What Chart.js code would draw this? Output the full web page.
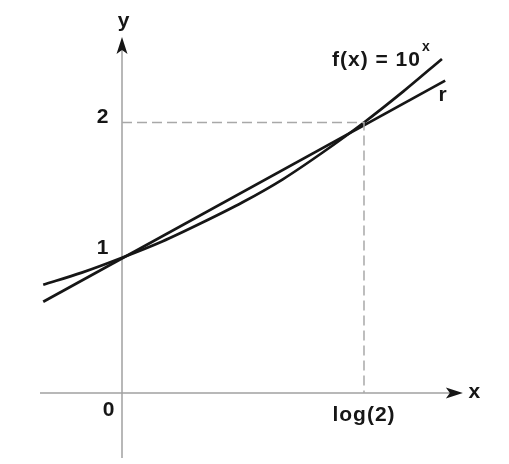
<!DOCTYPE html>
<html>
<head>
<meta charset="utf-8">
<script src="https://cdn.jsdelivr.net/npm/chart.js@4/dist/chart.umd.min.js"></script>
<style>
  html, body { margin: 0; padding: 0; background: #fff; }
  #wrap { width: 509px; height: 464px; }
</style>
</head>
<body>
<div id="wrap"><canvas id="c" width="509" height="464"></canvas></div>
<script>
// ---- data ----
const curveX = [-0.098, -0.05, 0, 0.05, 0.1, 0.15, 0.2, 0.25, 0.301, 0.35, 0.398];
const curveY = [0.80, 0.89, 1.00, 1.12, 1.26, 1.41, 1.58, 1.78, 2.00, 2.23, 2.47];
const lineRX = [-0.098, 0.402];
const lineRY = [0.675, 2.31];
const LOG2 = 0.30103;
const xTickValues = [0, LOG2];
const xTickLabels = ['0', 'log(2)'];
const yTickValues = [1, 2];
const yTickLabels = ['1', '2'];
const curveLabel = 'f(x) = 10';
const curveLabelSup = 'x';
const lineLabel = 'r';
const xAxisLabel = 'x';
const yAxisLabel = 'y';

// ---- view ----
const X_MIN = -0.15176, X_MAX = 0.48140;
const Y_MIN = -0.52495, Y_MAX = 2.90573;
const X_AXIS_FROM = -0.102, X_AXIS_TO = 0.424;
const Y_AXIS_FROM = -0.48, Y_AXIS_TO = 2.632;

const INK = '#161616';
const AXIS = '#a0a0a0';
const FONT = 'bold 21px "Liberation Sans", Arial, sans-serif';

const pts = (xs, ys) => xs.map((x, i) => ({ x: x, y: ys[i] }));

const axesPlugin = {
  id: 'mathAxes',
  beforeDatasetsDraw(chart) {
    const ctx = chart.ctx;
    const sx = chart.scales.x, sy = chart.scales.y;
    const x0 = sx.getPixelForValue(0), y0 = sy.getPixelForValue(0);
    ctx.save();
    ctx.strokeStyle = AXIS;
    ctx.lineWidth = 1.5;
    const xa = sx.getPixelForValue(X_AXIS_FROM), xb = sx.getPixelForValue(X_AXIS_TO);
    ctx.beginPath(); ctx.moveTo(xa, y0); ctx.lineTo(xb - 8, y0); ctx.stroke();
    const ya = sy.getPixelForValue(Y_AXIS_FROM), yb = sy.getPixelForValue(Y_AXIS_TO);
    ctx.beginPath(); ctx.moveTo(x0, ya); ctx.lineTo(x0, yb + 8); ctx.stroke();
    ctx.fillStyle = INK;
    ctx.beginPath();
    ctx.moveTo(xb, y0); ctx.lineTo(xb - 17, y0 - 5.5); ctx.lineTo(xb - 13, y0); ctx.lineTo(xb - 17, y0 + 5.5); ctx.closePath();
    ctx.fill();
    ctx.beginPath();
    ctx.moveTo(x0, yb); ctx.lineTo(x0 - 5.5, yb + 17); ctx.lineTo(x0, yb + 13); ctx.lineTo(x0 + 5.5, yb + 17); ctx.closePath();
    ctx.fill();
    ctx.restore();
  },
  afterDraw(chart) {
    const ctx = chart.ctx;
    const sx = chart.scales.x, sy = chart.scales.y;
    const x0 = sx.getPixelForValue(0), y0 = sy.getPixelForValue(0);
    ctx.save();
    ctx.fillStyle = INK;
    ctx.font = FONT;
    try { ctx.letterSpacing = '1px'; } catch (e) {}
    ctx.textBaseline = 'middle';
    ctx.textAlign = 'center';
    xTickValues.forEach((v, i) => {
      const px = sx.getPixelForValue(v);
      const dx = v === 0 ? -13 : 0;
      const dy = v === 0 ? 17 : 22;
      ctx.fillText(xTickLabels[i], px + dx, y0 + dy);
    });
    yTickValues.forEach((v, i) => {
      const py = sy.getPixelForValue(v);
      const dy = v === 1 ? -10 : -5;
      ctx.fillText(yTickLabels[i], x0 - 19, py + dy);
    });
    ctx.fillText(yAxisLabel, x0 + 2, sy.getPixelForValue(Y_AXIS_TO) - 16);
    ctx.fillText(xAxisLabel, sx.getPixelForValue(X_AXIS_TO) + 12, y0 - 1);
    const cx = sx.getPixelForValue(curveX[curveX.length - 1]);
    const cy = sy.getPixelForValue(curveY[curveY.length - 1]);
    ctx.textAlign = 'right';
    ctx.textBaseline = 'alphabetic';
    ctx.fillText(curveLabel, cx - 21, cy + 7);
    ctx.font = 'bold 14px "Liberation Sans", Arial, sans-serif';
    ctx.textAlign = 'left';
    ctx.fillText(curveLabelSup, cx - 20, cy - 8);
    ctx.font = FONT;
    ctx.textAlign = 'center';
    ctx.textBaseline = 'middle';
    const rx = sx.getPixelForValue(lineRX[1]);
    const ry = sy.getPixelForValue(lineRY[1]);
    ctx.fillText(lineLabel, rx - 2, ry + 15);
    ctx.restore();
  }
};

new Chart(document.getElementById('c'), {
  type: 'scatter',
  data: {
    datasets: [
      {
        data: [{ x: 0, y: 2 }, { x: LOG2, y: 2 }, { x: LOG2, y: 0 }],
        showLine: true, borderColor: '#a8a8a8', borderWidth: 1.5,
        borderDash: [10, 5], pointRadius: 0, fill: false, tension: 0
      },
      {
        data: pts(curveX, curveY),
        showLine: true, borderColor: INK, borderWidth: 2.7,
        pointRadius: 0, fill: false, tension: 0, cubicInterpolationMode: 'monotone'
      },
      {
        data: pts(lineRX, lineRY),
        showLine: true, borderColor: INK, borderWidth: 2.7,
        pointRadius: 0, fill: false, tension: 0
      }
    ]
  },
  options: {
    responsive: false,
    animation: false,
    layout: { padding: 0 },
    plugins: { legend: { display: false }, tooltip: { enabled: false } },
    scales: {
      x: { type: 'linear', min: X_MIN, max: X_MAX, display: false },
      y: { type: 'linear', min: Y_MIN, max: Y_MAX, display: false }
    }
  },
  plugins: [axesPlugin]
});
</script>
</body>
</html>
